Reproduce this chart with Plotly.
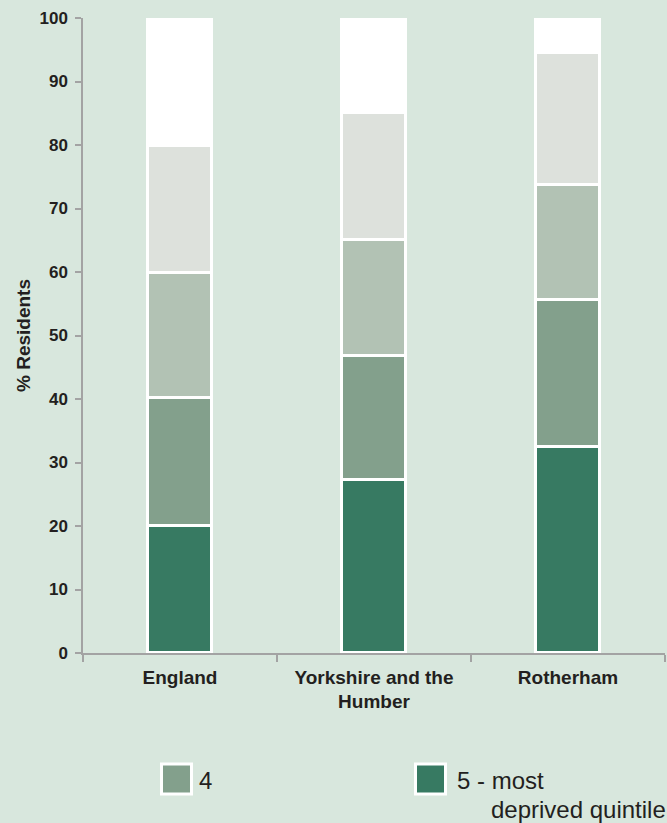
import plotly.graph_objects as go

# ---- data ----
categories = ["England", "Yorkshire and the<br>Humber", "Rotherham"]
series_names = ["5 - most deprived quintile", "4", "3", "2", "1 - least deprived quintile"]
q5 = [20.0, 27.3, 32.4]
q4 = [20.1, 19.4, 23.2]
q3 = [19.7, 18.3, 18.1]
q2 = [20.0, 20.1, 20.8]
q1 = [20.2, 14.9, 5.5]
series_values = [q5, q4, q3, q2, q1]
colors = ["#377a62", "#83a08c", "#b2c2b4", "#dde1dc", "#ffffff"]
ytick_vals = [0, 10, 20, 30, 40, 50, 60, 70, 80, 90, 100]

# legend entries that are visible in the reference
legend_items = [
    ("4", ["4"], "#83a08c"),
    ("5 - most deprived quintile", ["5 - most", "deprived quintile"], "#377a62"),
]

W, H = 667, 823
L, R, T, B = 83, 2, 18, 170
PW, PH = W - L - R, H - T - B
FONT = "Arial, Liberation Sans, sans-serif"
TXT = "#231f20"
BG = "#d8e7dd"
AX = "#a3a3a3"

def px(x):
    return (x - L) / PW

def py(y):
    return (H - B - y) / PH

fig = go.Figure()
for name, vals, col in zip(series_names, series_values, colors):
    fig.add_trace(go.Bar(
        x=categories, y=vals, name=name, width=0.325,
        marker=dict(color=col, line=dict(color="#ffffff", width=3)),
        showlegend=False,
    ))

# manual legend (large swatches)
legend_x = [176.5, 430.5]
for (nm, lines, col), cx in zip(legend_items, legend_x):
    fig.add_shape(type="rect", xref="paper", yref="paper",
                  x0=px(cx - 15), x1=px(cx + 15), y0=py(764), y1=py(794),
                  fillcolor=col, line=dict(color="#ffffff", width=3), layer="above")
fig.add_annotation(text=legend_items[0][1][0], xref="paper", yref="paper",
                   x=px(197), y=py(780), xanchor="left", yanchor="middle",
                   showarrow=False, font=dict(family=FONT, size=24, color=TXT))
fig.add_annotation(text=legend_items[1][1][0], xref="paper", yref="paper",
                   x=px(455), y=py(780), xanchor="left", yanchor="middle",
                   showarrow=False, font=dict(family=FONT, size=24, color=TXT))
fig.add_annotation(text=legend_items[1][1][1], xref="paper", yref="paper",
                   x=px(489), y=py(809), xanchor="left", yanchor="middle",
                   showarrow=False, font=dict(family=FONT, size=24, color=TXT))

fig.update_layout(
    barmode="stack",
    width=W, height=H,
    margin=dict(l=L, r=R, t=T, b=B, autoexpand=False),
    paper_bgcolor=BG, plot_bgcolor=BG,
    font=dict(family=FONT, color=TXT),
    bargap=0,
)
fig.update_xaxes(
    range=[-0.5, 2.5], showgrid=False, zeroline=False,
    showline=True, linecolor=AX, linewidth=1.5,
    ticks="outside", tickson="boundaries", ticklen=7, tickcolor=AX, tickwidth=1.5,
    ticklabelstandoff=6,
    tickfont=dict(family=FONT, size=19, color=TXT, weight="bold"),
)
fig.update_yaxes(
    range=[0, 100], tickvals=ytick_vals, showgrid=False, zeroline=False,
    showline=True, linecolor=AX, linewidth=1.5,
    ticks="outside", ticklen=6, tickcolor=AX, tickwidth=1.5,
    ticklabelstandoff=4,
    tickfont=dict(family=FONT, size=17, color=TXT, weight="bold"),
    title=dict(text="% Residents", standoff=4,
               font=dict(family=FONT, size=19, color=TXT, weight="bold")),
)

fig.write_html("out.html")
